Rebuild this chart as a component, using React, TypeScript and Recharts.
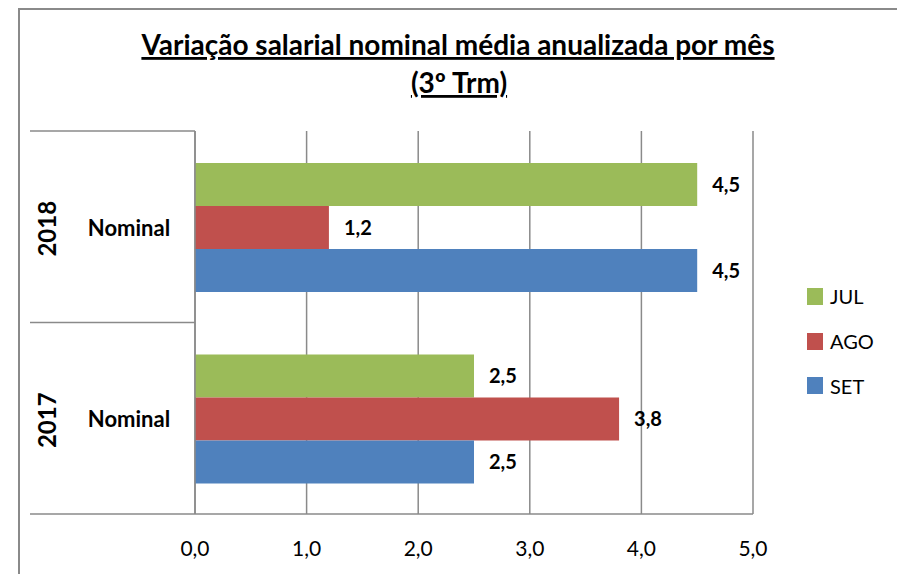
import React from 'react';
import { BarChart, Bar, XAxis, YAxis, CartesianGrid, LabelList } from 'recharts';

const years = ['2018', '2017'];
const subLabel = 'Nominal';
const jul = [4.5, 2.5];
const ago = [1.2, 3.8];
const set = [4.5, 2.5];
const xTicks = [0, 1, 2, 3, 4, 5];
const seriesNames = ['JUL', 'AGO', 'SET'];
const colors = ['#9BBB59', '#C0504D', '#4F81BD'];
const titleLine1 = 'Variação salarial nominal média anualizada por mês';
const titleLine2 = '(3º Trm)';

const data = years.map((y, i) => ({ year: y, JUL: jul[i], AGO: ago[i], SET: set[i] }));

const W = 897;
const H = 574;
const M = { top: 131, right: 144, bottom: 0, left: 0 };
const XAXIS_H = 60;
const YAXIS_W = 195;
const PLOT_H = H - M.top - M.bottom - XAXIS_H;
const BAND = PLOT_H / years.length;
const LINE = '#8a8a8a';
const FONT = 'Lato, "Open Sans", sans-serif';

const fmt = (v: number) => v.toFixed(1).replace('.', ',');

const CategoryTick = (props: any) => {
  const { y, payload, index } = props;
  const half = BAND / 2;
  const isLast = (payload?.index ?? index) === years.length - 1;
  return (
    <g>
      <line x1={30} x2={YAXIS_W} y1={y - half} y2={y - half} stroke={LINE} strokeWidth={1.5} />
      {isLast && <line x1={30} x2={YAXIS_W} y1={y + half} y2={y + half} stroke={LINE} strokeWidth={1.5} />}
      <text x={129} y={y + 9} textAnchor="middle" fontFamily={FONT} fontWeight={700} fontSize={22} fill="#000">
        {subLabel}
      </text>
      <text
        transform={`translate(56, ${y + 2}) rotate(-90)`}
        textAnchor="middle"
        fontFamily={FONT}
        fontWeight={700}
        fontSize={24}
        fill="#000"
      >
        {payload.value}
      </text>
    </g>
  );
};

const LegendBox = () => (
  <div style={{ position: 'absolute', left: 807, top: 274, fontFamily: FONT }}>
    {seriesNames.map((n, i) => (
      <div key={n} style={{ display: 'flex', alignItems: 'center', height: 44.7 }}>
        <div style={{ width: 16, height: 17, background: colors[i], marginRight: 7 }} />
        <span style={{ fontSize: 20, color: '#000' }}>{n}</span>
      </div>
    ))}
  </div>
);

export default function App() {
  return (
    <div style={{ position: 'absolute', left: 0, top: 0, width: W, height: H, overflow: 'hidden', background: '#fff' }}>
      <svg style={{ position: 'absolute', left: 0, top: 0, display: 'block' }} width={W} height={H}>
        <line x1={18} x2={W} y1={9} y2={9} stroke={LINE} strokeWidth={2} />
        <line x1={19} x2={19} y1={8} y2={H} stroke={LINE} strokeWidth={2} />
        <text
          x={458}
          y={55}
          textAnchor="middle"
          fontFamily={FONT}
          fontWeight={700}
          fontSize={28}
          textDecoration="underline"
          fill="#000"
        >
          {titleLine1}
        </text>
        <text
          x={459}
          y={93}
          textAnchor="middle"
          fontFamily={FONT}
          fontWeight={700}
          fontSize={28}
          textDecoration="underline"
          fill="#000"
        >
          {titleLine2}
        </text>
      </svg>
      <div style={{ position: 'absolute', left: 0, top: 0 }}>
        <BarChart
          width={W}
          height={H}
          data={data}
          layout="vertical"
          margin={M}
          barCategoryGap="16.7%"
          barGap={0}
        >
          <CartesianGrid horizontal={false} vertical stroke={LINE} strokeWidth={1.5} />
          <XAxis
            type="number"
            domain={[0, 5]}
            ticks={xTicks}
            tickFormatter={fmt}
            height={XAXIS_H}
            tickLine={false}
            tickSize={0}
            tickMargin={27}
            axisLine={{ stroke: LINE, strokeWidth: 1.5 }}
            tick={{ fill: '#000', fontSize: 21, fontFamily: FONT }}
            interval={0}
          />
          <YAxis
            type="category"
            dataKey="year"
            width={YAXIS_W}
            tickLine={false}
            axisLine={{ stroke: LINE, strokeWidth: 1.5 }}
            tick={<CategoryTick />}
            interval={0}
          />
          {seriesNames.map((n, i) => (
            <Bar key={n} dataKey={n} fill={colors[i]} isAnimationActive={false}>
              <LabelList
                dataKey={n}
                position="right"
                offset={15}
                formatter={(v: any) => fmt(Number(v))}
                fill="#000"
                fontFamily={FONT}
                fontWeight={700}
                fontSize={20}
              />
            </Bar>
          ))}
        </BarChart>
      </div>
      <LegendBox />
    </div>
  );
}
